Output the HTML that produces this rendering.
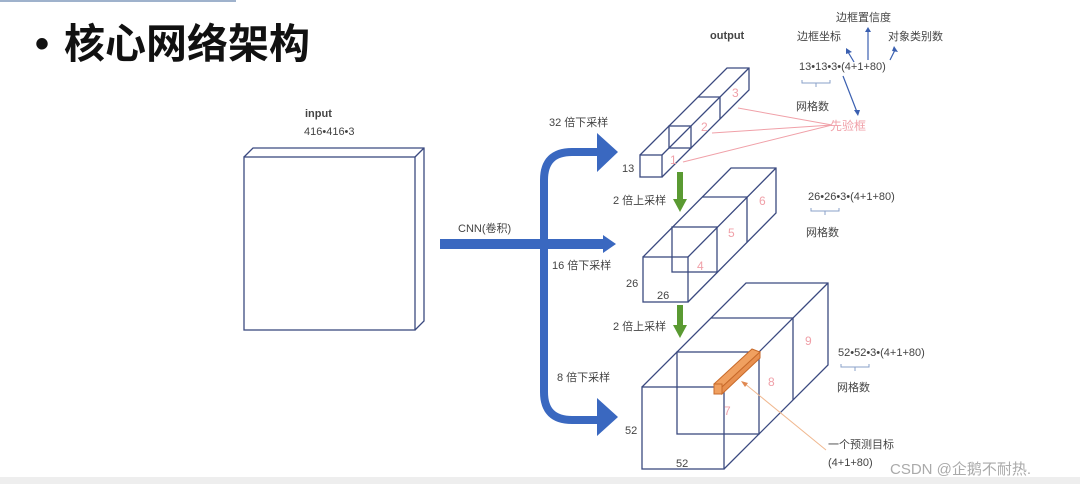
<!DOCTYPE html>
<html><head><meta charset="utf-8"><style>
body{margin:0;width:1080px;height:484px;overflow:hidden;background:#fff;font-family:"Liberation Sans","Noto Sans CJK SC",sans-serif;}
svg{position:absolute;left:0;top:0}
</style></head><body>
<svg width="1080" height="484" viewBox="0 0 1080 484" xmlns="http://www.w3.org/2000/svg" font-family="Liberation Sans, Noto Sans CJK SC, sans-serif">
<rect x="0" y="0" width="236" height="2" fill="#9fb2cc"/>
<rect x="0" y="477" width="1080" height="7" fill="#eeeeee"/>
<text x="35" y="57" font-size="40" font-weight="bold" fill="#111">•</text>
<text x="64" y="58" font-size="41" font-weight="bold" fill="#111">核心网络架构</text>

<g fill="none" stroke="#3b4a80" stroke-width="1.3">
<rect x="244" y="157" width="171" height="173"/>
<polyline points="244,157 253,148 424,148 424,321 415,330"/><line x1="415" y1="157" x2="424" y2="148"/>
<rect x="640" y="155" width="22" height="22"/>
<polyline points="640,155 727,68 749,68 749,90 662,177"/><line x1="662" y1="155" x2="749" y2="68"/>
<rect x="669" y="126" width="22" height="22"/>
<polyline points="698,97 720,97 720,119"/>
<rect x="643" y="257" width="45" height="45"/>
<polyline points="643,257 731,168 776,168 776,213 688,302"/><line x1="688" y1="257" x2="776" y2="168"/>
<rect x="672" y="227" width="45" height="45"/>
<polyline points="702,197 747,197 747,242"/>
<rect x="642" y="387" width="82" height="82"/>
<polyline points="642,387 746,283 828,283 828,365 724,469"/><line x1="724" y1="387" x2="828" y2="283"/>
<rect x="677" y="352" width="82" height="82"/>
<polyline points="711,318 793,318 793,400"/>
</g>
<!-- orange bar -->
<polygon points="714,384 752,349 760,352 722,387" fill="#f0a060" stroke="#c86a2a" stroke-width="1"/>
<polygon points="722,387 760,352 760,358 722,394" fill="#e89050" stroke="#c86a2a" stroke-width="1"/>
<rect x="714" y="384" width="8" height="10" fill="#f0a060" stroke="#c86a2a" stroke-width="1"/>

<!-- blue arrows -->
<path d="M600,152 L572,152 Q544,152 544,180 L544,392 Q544,420 572,420 L600,420" fill="none" stroke="#3a68c0" stroke-width="8"/>
<g fill="#3a68c0">
<polygon points="597,133 618,152 597,172"/>
<polygon points="597,398 618,417 597,436"/>
<path d="M440,239 L603,239 L603,235 L616,244 L603,253 L603,249 L440,249 Z"/>
</g>
<g fill="#5a9a32">
<rect x="677" y="172" width="6" height="28"/><polygon points="673,199 687,199 680,212"/>
<rect x="677" y="305" width="6" height="22"/><polygon points="673,325 687,325 680,338"/>
</g>
<g stroke="#f0a0a8" stroke-width="1" fill="#f08088">
<line x1="832" y1="125" x2="738" y2="108"/><line x1="832" y1="125" x2="712" y2="133"/><line x1="832" y1="125" x2="683" y2="162"/>
</g>
<g stroke="#3a5fb0" stroke-width="1.2" fill="none">
<line x1="854" y1="62" x2="848" y2="52"/><line x1="868" y1="60" x2="868" y2="32"/><line x1="890" y1="60" x2="895" y2="50"/><line x1="843" y1="76" x2="857" y2="112"/>
</g>
<g fill="#3a5fb0">
<polygon points="846,48 852,52 846,54"/><polygon points="865,32 871,32 868,27"/><polygon points="894,46 898,52 892,51"/><polygon points="854,110 860,110 858,116"/>
</g>
<line x1="826" y1="450" x2="744" y2="383" stroke="#f0b890" stroke-width="1"/>
<polygon points="741,381 748,383 745,387" fill="#e08850"/>
<g stroke="#8aa0c8" stroke-width="1" fill="none">
<path d="M802,80 v3 h28 v-3 M816,83 v4"/>
<path d="M811,208 v3 h28 v-3 M825,211 v4"/>
<path d="M841,364 v3 h28 v-3 M855,367 v4"/>
</g>
<g fill="#f0a0a8" font-size="12">
<text x="670" y="164">1</text><text x="701" y="131">2</text><text x="732" y="97">3</text>
<text x="697" y="270">4</text><text x="728" y="237">5</text><text x="759" y="205">6</text>
<text x="724" y="415">7</text><text x="768" y="386">8</text><text x="805" y="345">9</text>
<text x="830" y="130" font-size="12">先验框</text>
</g>
<g fill="#444" font-size="11">
<text x="305" y="117" font-weight="bold">input</text>
<text x="304" y="135">416•416•3</text>
<text x="710" y="39" font-weight="bold">output</text>
<text x="836" y="21">边框置信度</text>
<text x="797" y="40">边框坐标</text>
<text x="888" y="40">对象类别数</text>
<text x="799" y="70">13•13•3•(4+1+80)</text>
<text x="796" y="110">网格数</text>
<text x="549" y="126">32 倍下采样</text>
<text x="622" y="172">13</text>
<text x="613" y="204">2 倍上采样</text>
<text x="458" y="232">CNN(卷积)</text>
<text x="552" y="269">16 倍下采样</text>
<text x="626" y="287">26</text>
<text x="657" y="299">26</text>
<text x="808" y="200">26•26•3•(4+1+80)</text>
<text x="806" y="236">网格数</text>
<text x="613" y="330">2 倍上采样</text>
<text x="557" y="381">8 倍下采样</text>
<text x="838" y="356">52•52•3•(4+1+80)</text>
<text x="837" y="391">网格数</text>
<text x="625" y="434">52</text>
<text x="676" y="467">52</text>
<text x="828" y="448">一个预测目标</text>
<text x="828" y="466">(4+1+80)</text>
</g>
<text x="890" y="474" font-size="15" fill="#aaa">CSDN @企鹅不耐热.</text>
</svg>
</body></html>
